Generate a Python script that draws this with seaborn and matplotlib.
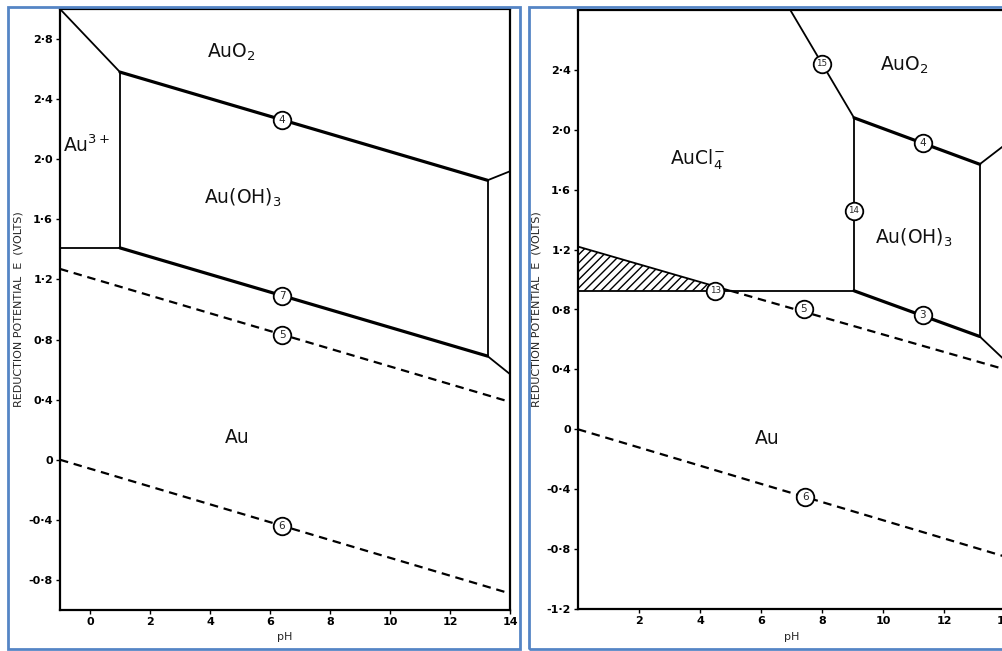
import matplotlib
matplotlib.use("Agg")
import matplotlib.pyplot as plt
from matplotlib.patches import Rectangle
import seaborn as sns

sns.set_theme(style="white")
plt.rcParams["font.family"] = ["DejaVu Sans"]
plt.rcParams["mathtext.default"] = "regular"
plt.rcParams["hatch.linewidth"] = 1.0

# ---------------- data : left panel (Au - H2O) ----------------
L_au3_auo2_ph, L_au3_auo2_E = [-1.0, 1.0], [3.0, 2.58]
L_au3_oh3_ph, L_au3_oh3_E = [1.0, 1.0], [2.58, 1.41]
L_au3_au_ph, L_au3_au_E = [-1.0, 1.0], [1.41, 1.41]
L_line4_ph, L_line4_E = [1.0, 13.25], [2.58, 1.86]
L_line4b_ph, L_line4b_E = [13.25, 14.0], [1.86, 1.92]
L_vert_ph, L_vert_E = [13.25, 13.25], [1.86, 0.69]
L_line7_ph, L_line7_E = [1.0, 13.25], [1.41, 0.69]
L_line7b_ph, L_line7b_E = [13.25, 14.0], [0.69, 0.57]
L_line5_ph, L_line5_E = [-1.0, 14.0], [1.27, 0.385]
L_line6_ph, L_line6_E = [-1.0, 14.0], [0.0, -0.89]
L_circle_labels = ["4", "7", "5", "6"]
L_circle_ph = [6.4, 6.4, 6.4, 6.4]
L_circle_E = [2.26, 1.09, 0.83, -0.44]
L_region_labels = [r"AuO$_2$", r"Au$^{3+}$", r"Au(OH)$_3$", "Au"]
L_region_ph = [4.7, -0.1, 5.1, 4.9]
L_region_E = [2.71, 2.09, 1.74, 0.15]
L_yticks = [-0.8, -0.4, 0.0, 0.4, 0.8, 1.2, 1.6, 2.0, 2.4, 2.8]
L_yticklabels = ["-0·8", "-0·4", "0", "0·4", "0·8", "1·2", "1·6", "2·0", "2·4", "2·8"]
L_xticks = [0, 2, 4, 6, 8, 10, 12, 14]
L_xticklabels = ["0", "2", "4", "6", "8", "10", "12", "14"]

# ---------------- data : right panel (Au - Cl - H2O) ----------------
R_line15_ph, R_line15_E = [6.96, 9.05], [2.8, 2.08]
R_line4_ph, R_line4_E = [9.05, 13.17], [2.08, 1.77]
R_line4b_ph, R_line4b_E = [13.17, 14.0], [1.77, 1.90]
R_line14_ph, R_line14_E = [9.05, 9.05], [2.08, 0.925]
R_line13_ph, R_line13_E = [0.0, 9.05], [0.925, 0.925]
R_line3_ph, R_line3_E = [9.05, 13.17], [0.925, 0.62]
R_line3b_ph, R_line3b_E = [13.17, 14.0], [0.62, 0.46]
R_vert_ph, R_vert_E = [13.17, 13.17], [1.77, 0.62]
R_hatch_ph, R_hatch_E = [0.0, 5.0], [1.22, 0.925]
R_line5_ph, R_line5_E = [5.0, 14.0], [0.925, 0.40]
R_line6_ph, R_line6_E = [0.0, 14.0], [0.0, -0.85]
R_circle_labels = ["15", "4", "14", "13", "5", "3", "6"]
R_circle_ph = [8.0, 11.3, 9.05, 4.5, 7.4, 11.3, 7.45]
R_circle_E = [2.44, 1.91, 1.46, 0.925, 0.80, 0.76, -0.45]
R_region_labels = [r"AuO$_2$", r"AuCl$_4^{-}$", r"Au(OH)$_3$", "Au"]
R_region_ph = [10.7, 3.9, 11.0, 6.2]
R_region_E = [2.43, 1.80, 1.28, -0.06]
R_yticks = [-1.2, -0.8, -0.4, 0.0, 0.4, 0.8, 1.2, 1.6, 2.0, 2.4]
R_yticklabels = ["-1·2", "-0·8", "-0·4", "0", "0·4", "0·8", "1·2", "1·6", "2·0", "2·4"]
R_xticks = [2, 4, 6, 8, 10, 12, 14]
R_xticklabels = ["2", "4", "6", "8", "10", "12", "14"]

THIN, THICK, DASH = 1.3, 2.3, 1.6
DASHSTYLE = (0, (3.8, 2.6))

fig = plt.figure(figsize=(10.02, 6.51), dpi=100)
W, H = 1002.0, 651.0

def axes_px(x0, y0, x1, y1):
    return fig.add_axes([x0 / W, 1 - y1 / H, (x1 - x0) / W, (y1 - y0) / H])

axL = axes_px(60, 9, 510, 610)
axR = axes_px(578, 10, 1005, 609)

def seg(ax, xs, ys, lw, ls="-"):
    sns.lineplot(x=xs, y=ys, ax=ax, color="black", linewidth=lw, linestyle=ls,
                 estimator=None, sort=False, legend=False)

def circles(ax, labels, xs, ys):
    sns.scatterplot(x=xs, y=ys, ax=ax, s=160, color="white", edgecolor="black",
                    linewidth=1.3, zorder=4, legend=False)
    for lab, x, y in zip(labels, xs, ys):
        size = 7.5 if len(lab) == 1 else 6.3
        ax.text(x, y, lab, ha="center", va="center", fontsize=size, zorder=5)

def regions(ax, labels, xs, ys):
    for lab, x, y in zip(labels, xs, ys):
        ax.text(x, y, lab, ha="center", va="center", fontsize=13.5, color="#111111")

# ----- left panel -----
seg(axL, L_au3_auo2_ph, L_au3_auo2_E, THIN)
seg(axL, L_au3_oh3_ph, L_au3_oh3_E, THIN)
seg(axL, L_au3_au_ph, L_au3_au_E, THIN)
seg(axL, L_line4_ph, L_line4_E, THICK)
seg(axL, L_line4b_ph, L_line4b_E, THIN)
seg(axL, L_vert_ph, L_vert_E, THIN)
seg(axL, L_line7_ph, L_line7_E, THICK)
seg(axL, L_line7b_ph, L_line7b_E, THIN)
seg(axL, L_line5_ph, L_line5_E, DASH, DASHSTYLE)
seg(axL, L_line6_ph, L_line6_E, DASH, DASHSTYLE)
circles(axL, L_circle_labels, L_circle_ph, L_circle_E)
regions(axL, L_region_labels, L_region_ph, L_region_E)
axL.set_xlim(-1, 14)
axL.set_ylim(-1.0, 3.0)
axL.set_xticks(L_xticks, L_xticklabels)
axL.set_yticks(L_yticks, L_yticklabels)

# ----- right panel -----
axR.fill_between(R_hatch_ph, R_hatch_E, [R_line13_E[0]] * len(R_hatch_ph),
                 facecolor="none", edgecolor="black", hatch="////", linewidth=0)
seg(axR, R_hatch_ph, R_hatch_E, THIN)
seg(axR, R_line15_ph, R_line15_E, THIN)
seg(axR, R_line4_ph, R_line4_E, THICK)
seg(axR, R_line4b_ph, R_line4b_E, THIN)
seg(axR, R_line14_ph, R_line14_E, THIN)
seg(axR, R_line13_ph, R_line13_E, THIN)
seg(axR, R_line3_ph, R_line3_E, THICK)
seg(axR, R_line3b_ph, R_line3b_E, THIN)
seg(axR, R_vert_ph, R_vert_E, THIN)
seg(axR, R_line5_ph, R_line5_E, DASH, DASHSTYLE)
seg(axR, R_line6_ph, R_line6_E, DASH, DASHSTYLE)
circles(axR, R_circle_labels, R_circle_ph, R_circle_E)
regions(axR, R_region_labels, R_region_ph, R_region_E)
axR.set_xlim(0, 14)
axR.set_ylim(-1.2, 2.8)
axR.set_xticks(R_xticks, R_xticklabels)
axR.set_yticks(R_yticks, R_yticklabels)

for ax in (axL, axR):
    for s in ax.spines.values():
        s.set_color("black")
        s.set_linewidth(1.6)
    ax.tick_params(axis="both", direction="out", length=3, width=1, pad=2,
                   labelsize=8, colors="black", bottom=True, left=True)
    for lab in ax.get_xticklabels() + ax.get_yticklabels():
        lab.set_fontweight("bold")
    ax.set_xlabel("pH", fontsize=8, labelpad=4)
    ax.set_ylabel("REDUCTION POTENTIAL  E  (VOLTS)", fontsize=8, labelpad=4)
    ax.set_facecolor("white")

# blue picture frames
blue = "#5585c5"
fig.patches.append(Rectangle((8 / W, 1 - 649 / H), (520 - 8) / W, (649 - 7) / H,
                             transform=fig.transFigure, fill=False, ec=blue, lw=2))
fig.patches.append(Rectangle((529 / W, 1 - 649 / H), (1010 - 529) / W, (649 - 7) / H,
                             transform=fig.transFigure, fill=False, ec=blue, lw=2))

fig.savefig("out.png", dpi=100)
